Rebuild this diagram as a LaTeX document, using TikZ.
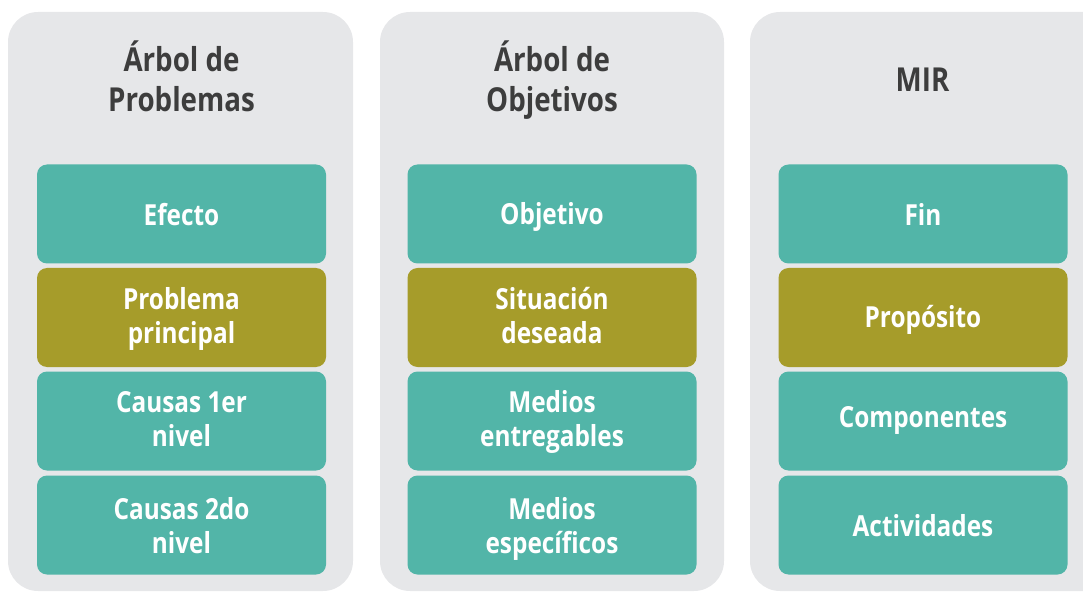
\documentclass[tikz,border=0pt]{standalone}
\usepackage{fontspec}
\setmainfont{Open Sans}[FakeStretch=0.84]
\usepackage{tikz}
\definecolor{panelgray}{HTML}{E6E7E9}
\definecolor{teal}{HTML}{52B5A8}
\definecolor{olive}{HTML}{A69C2A}
\definecolor{titlegray}{HTML}{3D3D3D}
\tikzset{
	panel/.style={fill=panelgray, draw=none, rounded corners=30pt},
	caja/.style={rectangle, fill=teal, rounded corners=10pt, minimum width=289pt, minimum height=99pt, text=white, align=center, font=\bfseries\fontsize{29}{34}\selectfont, inner sep=0pt, text depth=0pt, text height=23pt},
	centro/.style={caja, fill=olive},
	dos/.style={text height=51pt},
	titulo/.style={text=titlegray, align=center, font=\bfseries\fontsize{33}{40}\selectfont, inner sep=0pt, text depth=0pt, anchor=south}
}

\begin{document}
\begin{tikzpicture}[x=1pt, y=-1pt]
			\useasboundingbox (0,0) rectangle (1083,593);
			\fill[panel] (8,12) rectangle (353,591);
			\fill[panel] (380,12) rectangle (724,591);
			\fill[panel] (750,12) rectangle (1120,591);
			
			\node (T1) [titulo] at (181.5,112){Árbol de\\Problemas};
			\node (T2) [titulo] at (552,112){Árbol de\\Objetivos};
			\node (T3) [titulo] at (922.5,92){MIR};
			
			\node (A1) [caja] at (181.5,214){Efecto};
			\node (A2) [centro, dos] at (181.5,317.5){Problema\\principal};
			\node (A3) [caja, dos] at (181.5,421){Causas 1er\\nivel};
			\node (A4) [caja, dos, text height=56pt] at (181.5,525){Causas 2do\\nivel};
			
			\node (B1) [caja, text height=22pt] at (552,214){Objetivo};
			\node (B2) [centro, dos] at (552,317.5){Situación\\deseada};
			\node (B3) [caja, dos] at (552,421){Medios\\entregables};
			\node (B4) [caja, dos, text height=56pt] at (552,525){Medios\\específicos};
			
			\node (C1) [caja] at (923,214){Fin};
			\node (C2) [centro, text height=19pt] at (923,317.5){Propósito};
			\node (C3) [caja, text height=12pt] at (923,421){Componentes};
			\node (C4) [caja, text height=22pt] at (923,525){Actividades};
		\end{tikzpicture}
\end{document}
